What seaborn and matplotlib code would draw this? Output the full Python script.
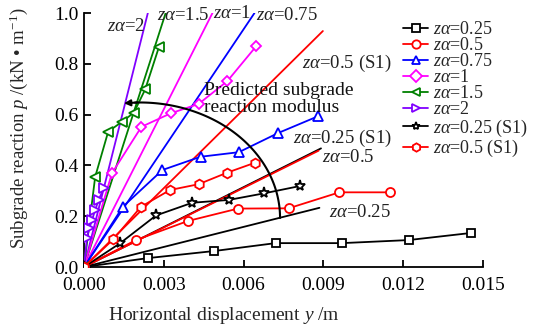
import numpy as np
import pandas as pd
import matplotlib
matplotlib.use("Agg")
import matplotlib.pyplot as plt
import seaborn as sns

# ---------------- data ----------------
# measured series: horizontal displacement y (m) and subgrade reaction p (kN/m)
x_025 = [0.0, 0.0024, 0.0049, 0.0072, 0.0097, 0.0122, 0.01455]
p_025 = [0.0, 0.035, 0.063, 0.094, 0.094, 0.106, 0.134]

x_05 = [0.0, 0.00195, 0.0039, 0.00579, 0.00769, 0.0096, 0.01151]
p_05 = [0.0, 0.106, 0.181, 0.230, 0.231, 0.294, 0.294]

x_075 = [0.0, 0.00146, 0.00295, 0.00438, 0.00582, 0.00731, 0.00881]
p_075 = [0.0, 0.237, 0.382, 0.434, 0.452, 0.528, 0.594]

x_1 = [0.0, 0.00105, 0.00216, 0.00326, 0.00431, 0.00539, 0.00648]
p_1 = [0.0, 0.369, 0.552, 0.605, 0.642, 0.732, 0.870]

x_15 = [0.0, 0.00042, 0.00091, 0.00143, 0.00187, 0.0023, 0.00282]
p_15 = [0.0, 0.355, 0.533, 0.572, 0.607, 0.699, 0.867]

x_2 = [0.0, 0.00011, 0.0002, 0.0003, 0.00042, 0.00055, 0.00074]
p_2 = [0.0, 0.113, 0.152, 0.185, 0.224, 0.264, 0.310]

x_025s1 = [0.0, 0.00135, 0.00271, 0.00407, 0.00544, 0.00677, 0.00813]
p_025s1 = [0.0, 0.093, 0.203, 0.253, 0.264, 0.290, 0.319]

x_05s1 = [0.0, 0.0011, 0.00214, 0.00323, 0.00431, 0.00537, 0.00644]
p_05s1 = [0.0, 0.109, 0.237, 0.303, 0.326, 0.371, 0.411]

series_labels = ["0.25", "0.5", "0.75", "1", "1.5", "2", "0.25 (S1)", "0.5 (S1)"]

# predicted straight lines from the origin: end point (x, p)
fit_labels = ["2", "1.5", "1", "0.75", "0.5 (S1)", "0.25 (S1)", "0.5", "0.25"]
fit_x_end = [0.0024, 0.00307, 0.00483, 0.00641, 0.00898, 0.00891, 0.00882, 0.00885]
fit_p_end = [1.0, 1.0, 1.0, 1.0, 0.929, 0.467, 0.458, 0.233]

x_ticks = [0.000, 0.003, 0.006, 0.009, 0.012, 0.015]
y_ticks = [0.0, 0.2, 0.4, 0.6, 0.8, 1.0]

# ---------------- style ----------------
sns.set_theme(style="ticks")
plt.rcParams["font.family"] = ["Liberation Serif", "DejaVu Serif"]
plt.rcParams["mathtext.fontset"] = "custom"
plt.rcParams["mathtext.rm"] = "Liberation Serif"
plt.rcParams["mathtext.it"] = "Liberation Serif:italic"
plt.rcParams["mathtext.bf"] = "Liberation Serif:bold"

PURPLE = "#8000ff"
GREEN = "#008000"
series_style = {
    "0.25": dict(color="black", marker="s", ms=6),
    "0.5": dict(color="red", marker="o", ms=6.5),
    "0.75": dict(color="blue", marker="^", ms=7),
    "1": dict(color="magenta", marker="D", ms=5.5),
    "1.5": dict(color=GREEN, marker="<", ms=7),
    "2": dict(color=PURPLE, marker=">", ms=7),
    "0.25 (S1)": dict(color="black", marker="*", ms=8),
    "0.5 (S1)": dict(color="red", marker="h", ms=7),
}
fit_colors = {"2": PURPLE, "1.5": GREEN, "1": "magenta", "0.75": "blue",
              "0.5 (S1)": "red", "0.25 (S1)": "black", "0.5": "red", "0.25": "black"}
# label anchor positions (data coords) for fit-line labels
fit_label_pos = {"2": (0.00086, 0.945), "1.5": (0.00274, 0.99), "1": (0.00484, 1.0),
                 "0.75": (0.00645, 0.99), "0.5 (S1)": (0.00818, 0.80),
                 "0.25 (S1)": (0.00784, 0.505), "0.5": (0.00896, 0.43),
                 "0.25": (0.00922, 0.215)}

fig = plt.figure(figsize=(5.41, 3.27), dpi=100)
ax = fig.add_axes([84 / 541, 1 - 267 / 327, 399 / 541, 254 / 327])

# fit lines
for lab, xe, pe in zip(fit_labels, fit_x_end, fit_p_end):
    d = pd.DataFrame({"x": [0.0, xe], "p": [0.0, pe]})
    sns.lineplot(data=d, x="x", y="p", ax=ax, color=fit_colors[lab], lw=1.3,
                 sort=False, estimator=None, legend=False, zorder=2)
    lx, ly = fit_label_pos[lab]
    ax.text(lx, ly, r"$z\alpha$=" + lab, fontsize=13.5, ha="left", va="center",
            color="#222222", zorder=5)

# measured series
xs = [x_025, x_05, x_075, x_1, x_15, x_2, x_025s1, x_05s1]
ps = [p_025, p_05, p_075, p_1, p_15, p_2, p_025s1, p_05s1]
handles = []
for lab, xv, pv in zip(series_labels, xs, ps):
    st = series_style[lab]
    d = pd.DataFrame({"x": xv, "p": pv})
    sns.lineplot(data=d, x="x", y="p", ax=ax, color=st["color"], lw=1.3,
                 marker=st["marker"], markersize=st["ms"], markerfacecolor="white",
                 markeredgecolor=st["color"], markeredgewidth=1.3,
                 sort=False, estimator=None, legend=False, zorder=3,
                 label=r"$z\alpha$=" + lab)
    handles.append(ax.lines[-1])

# predicted subgrade reaction modulus arc (elliptical, with arrow)
arc_cx, arc_cy, arc_a, arc_b = 0.0021, 0.193, 0.00527, 0.4547
th = np.linspace(0, np.deg2rad(92), 100)
ax.plot(arc_cx + arc_a * np.cos(th), arc_cy + arc_b * np.sin(th), color="black", lw=1.5, zorder=4)
t0, t1 = np.deg2rad(91), np.deg2rad(96.5)
ax.annotate("", xy=(arc_cx + arc_a * np.cos(t1), arc_cy + arc_b * np.sin(t1)),
            xytext=(arc_cx + arc_a * np.cos(t0), arc_cy + arc_b * np.sin(t0)),
            arrowprops=dict(arrowstyle="-|>", color="black", lw=1.5,
                            mutation_scale=9, shrinkA=0, shrinkB=0), zorder=4)
ax.text(0.0045, 0.66, "Predicted subgrade\nreaction modulus", fontsize=14,
        ha="left", va="center", linespacing=1.0, color="#111111", zorder=5)

ax.set_xlim(0, 0.015)
ax.set_ylim(0, 1.0)
ax.set_xticks(x_ticks)
ax.set_yticks(y_ticks)
ax.set_xticklabels([f"{v:.3f}" for v in x_ticks])
ax.set_yticklabels([f"{v:.1f}" for v in y_ticks])
ax.tick_params(direction="in", length=5, width=1.3, labelsize=14, colors="black", pad=4)
ax.tick_params(axis="x", pad=7)
for s in ["top", "right"]:
    ax.spines[s].set_visible(False)
for s in ["left", "bottom"]:
    ax.spines[s].set_linewidth(1.3)
    ax.spines[s].set_color("black")

ax.set_xlabel("Horizontal displacement $y$ /m", fontsize=14)
ax.set_ylabel("Subgrade reaction $p$ /(kN • m$^{-1}$)", fontsize=13.5)
ax.xaxis.set_label_coords(0.351, -0.15)
ax.yaxis.set_label_coords(-0.135, 0.545)

leg = ax.legend(handles=handles, loc="upper left", bbox_to_anchor=(403 / 541, 1 - 21 / 327),
                bbox_transform=fig.transFigure, frameon=False, fontsize=13,
                handlelength=1.4, handletextpad=0.25, labelspacing=-0.05, borderpad=0,
                borderaxespad=0)
for h in leg.legend_handles:
    h.set_markersize(6)

fig.savefig("out.png", dpi=100)
